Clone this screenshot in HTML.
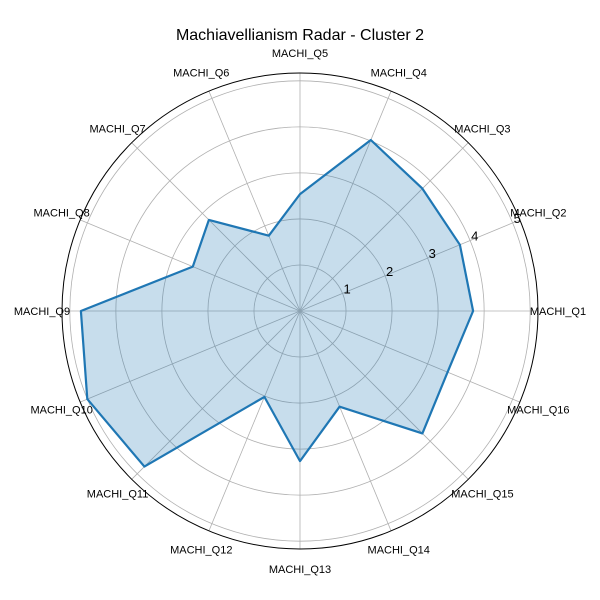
<!DOCTYPE html>
<html><head><meta charset="utf-8"><style>
html,body{margin:0;padding:0;background:#fff;}
svg{display:block;font-family:"Liberation Sans","DejaVu Sans",sans-serif;}
</style></head><body>
<svg id="chart" width="600" height="600" viewBox="0 0 600 600">
<text x="300" y="40" text-anchor="middle" font-size="16">Machiavellianism Radar - Cluster 2</text>
<g id="grid"></g>
<g id="series"></g>
<g id="labels"></g>
</svg>
<script>
const categories = ["MACHI_Q1","MACHI_Q2","MACHI_Q3","MACHI_Q4","MACHI_Q5","MACHI_Q6","MACHI_Q7","MACHI_Q8","MACHI_Q9","MACHI_Q10","MACHI_Q11","MACHI_Q12","MACHI_Q13","MACHI_Q14","MACHI_Q15","MACHI_Q16"];
const values = [3.76,3.76,3.76,4.02,2.54,1.77,2.8,2.52,4.76,5.0,4.78,2.02,3.26,2.25,3.76,3.47];
const rTicks = [1,2,3,4,5];
const rMax = 5.17;

const NS = "http://www.w3.org/2000/svg";
const cx = 300, cy = 311, R = 238;
const rScale = v => v / rMax * R;
const ang = i => i * 2 * Math.PI / categories.length;
const pt = (i, v) => [cx + rScale(v) * Math.cos(ang(i)), cy - rScale(v) * Math.sin(ang(i))];
function mk(tag, attrs, parent) { const e = document.createElementNS(NS, tag); for (const k in attrs) e.setAttribute(k, attrs[k]); parent.appendChild(e); return e; }
const grid = document.getElementById('grid'), series = document.getElementById('series'), labels = document.getElementById('labels');

rTicks.forEach(t => {
  const c = mk('circle', {cx, cy, r: rScale(t), fill: 'none', stroke: '#b0b0b0', 'stroke-width': 0.8}, grid);
  
  
});
categories.forEach((c, i) => {
  const l = mk('line', {x1: cx, y1: cy, x2: cx + R * Math.cos(ang(i)), y2: cy - R * Math.sin(ang(i)), stroke: '#b0b0b0', 'stroke-width': 0.8}, grid);
  
  
  const lx = cx + 258 * Math.cos(ang(i)), ly = cy - 258 * Math.sin(ang(i));
  const tx = mk('text', {x: lx, y: ly + 4, 'text-anchor': 'middle', 'font-size': 11}, labels);
  tx.textContent = c;
  
  
});
const outer = mk('circle', {cx, cy, r: R, fill: 'none', stroke: '#000', 'stroke-width': 1}, grid);



const pts = values.map((v, i) => pt(i, v).map(n => n.toFixed(1)).join(',')).join(' ');
const poly = mk('polygon', {points: pts, fill: '#1f77b4', 'fill-opacity': 0.25, stroke: '#1f77b4', 'stroke-width': 2.2, 'stroke-linejoin': 'round'}, series);



const a = 22.5 * Math.PI / 180;
rTicks.forEach(t => {
  const tx = mk('text', {x: cx + rScale(t) * Math.cos(a) + 1, y: cy - rScale(t) * Math.sin(a), 'font-size': 13}, labels);
  tx.textContent = t;
  
  
});
</script>
</body></html>
